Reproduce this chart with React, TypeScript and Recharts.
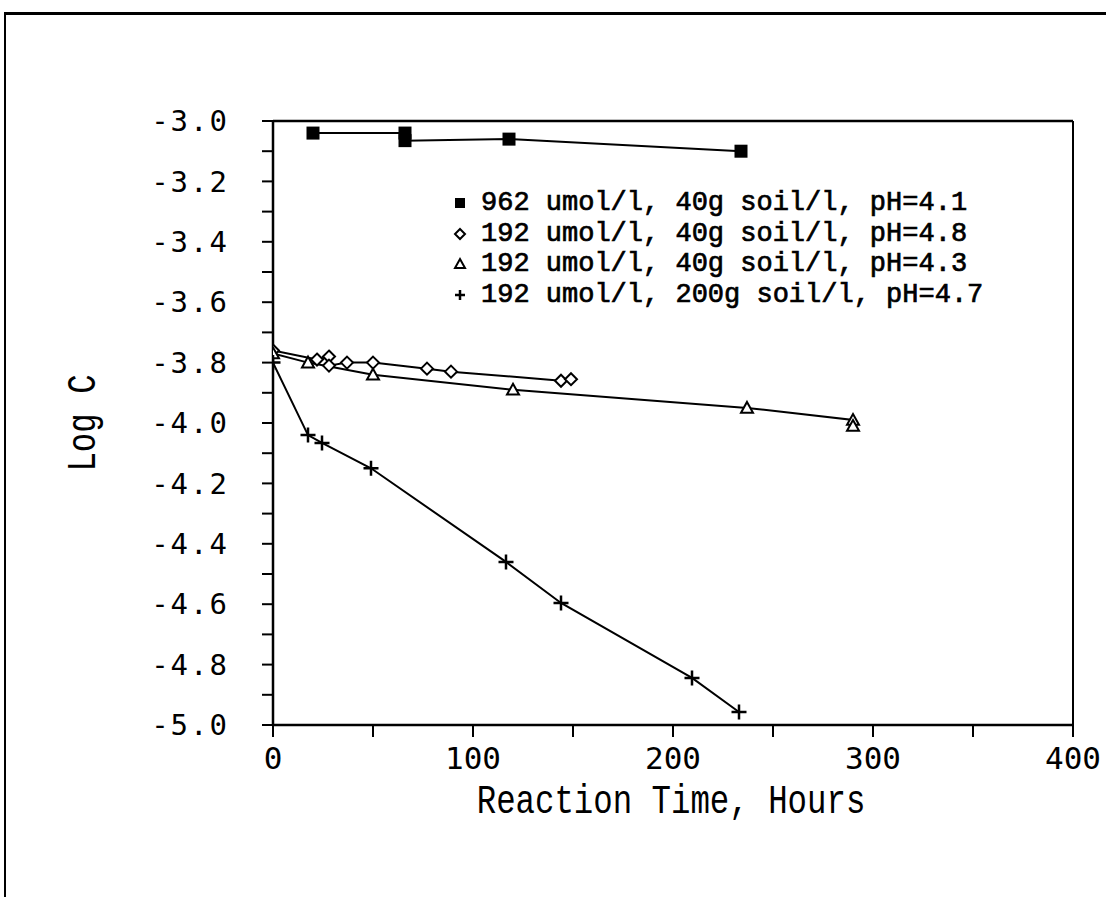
import React from 'react';
import { ComposedChart, Line, XAxis, YAxis, ReferenceLine, Legend } from 'recharts';

// Series: 962 umol/l, 40g soil/l, pH=4.1 (filled squares)
const sqT = [20, 66, 66, 118, 234];
const sqLogC = [-3.04, -3.04, -3.065, -3.06, -3.10];
// Series: 192 umol/l, 40g soil/l, pH=4.8 (open diamonds)
const dmT = [0, 22, 28, 28, 37, 50, 77, 89, 144, 149];
const dmLogC = [-3.76, -3.79, -3.78, -3.81, -3.80, -3.80, -3.82, -3.83, -3.86, -3.855];
// Series: 192 umol/l, 40g soil/l, pH=4.3 (open triangles)
const trT = [0, 17.5, 50, 120, 237, 290, 290];
const trLogC = [-3.77, -3.80, -3.84, -3.89, -3.95, -3.99, -4.01];
// Series: 192 umol/l, 200g soil/l, pH=4.7 (plus)
const plT = [0, 17.5, 24.5, 49, 116.5, 144, 209.5, 233];
const plLogC = [-3.80, -4.04, -4.066, -4.15, -4.46, -4.596, -4.844, -4.957];

const seriesNames = [
  '962 umol/l, 40g soil/l, pH=4.1',
  '192 umol/l, 40g soil/l, pH=4.8',
  '192 umol/l, 40g soil/l, pH=4.3',
  '192 umol/l, 200g soil/l, pH=4.7',
];
const seriesShapes = ['square', 'diamond', 'triangle', 'plus'];

const xTicks = [0, 50, 100, 150, 200, 250, 300, 350, 400];
const yTicks = [-5.0, -4.9, -4.8, -4.7, -4.6, -4.5, -4.4, -4.3, -4.2, -4.1, -4.0,
  -3.9, -3.8, -3.7, -3.6, -3.5, -3.4, -3.3, -3.2, -3.1, -3.0];

const xTitle = 'Reaction Time, Hours';
const yTitle = 'Log C';

const toRows = (t: number[], v: number[]) => t.map((x, i) => ({ t: x, logc: v[i] }));
const sqData = toRows(sqT, sqLogC);
const dmData = toRows(dmT, dmLogC);
const trData = toRows(trT, trLogC);
const plData = toRows(plT, plLogC);

const W = 1106;
const H = 897;
const YW = 200;
const XH = 110;

function marker(shape: string, cx: number, cy: number, s: number, key?: string) {
  if (shape === 'square') {
    return <rect key={key} x={cx - s / 2} y={cy - s / 2} width={s} height={s} fill="#000" />;
  }
  if (shape === 'diamond') {
    const r = s / 2;
    return (
      <polygon key={key} points={`${cx},${cy - r} ${cx + r},${cy} ${cx},${cy + r} ${cx - r},${cy}`}
        fill="#fff" stroke="#000" strokeWidth={2} />
    );
  }
  if (shape === 'triangle') {
    const r = s / 2;
    return (
      <polygon key={key} points={`${cx},${cy - r} ${cx + r},${cy + r * 0.8} ${cx - r},${cy + r * 0.8}`}
        fill="#fff" stroke="#000" strokeWidth={2} />
    );
  }
  const r = s / 2;
  return (
    <path key={key} d={`M${cx - r},${cy} H${cx + r} M${cx},${cy - r} V${cy + r}`} stroke="#000" strokeWidth={2.5} fill="none" />
  );
}

const makeDot = (shape: string, size: number) => (p: any) =>
  marker(shape, p.cx, p.cy, size, `${shape}-${p.index}`);

const LegendContent = () => (
  <div style={{ fontFamily: '"Liberation Mono", monospace', fontWeight: 'normal', fontSize: 27, color: '#000', WebkitTextStroke: '0.7px #000' } as any}>
    {seriesNames.map((n, i) => (
      <div key={n} style={{ display: 'flex', alignItems: 'center', height: 30.5, whiteSpace: 'pre' }}>
        <svg width={24} height={20} style={{ marginRight: 9 }}>
          {marker(seriesShapes[i], 12, 10, 10)}
        </svg>
        <span>{n}</span>
      </div>
    ))}
  </div>
);

const yLabel = (props: any) => {
  const vb = props.viewBox;
  const cx = vb.x + 12;
  const cy = vb.y + vb.height / 2;
  return (
    <text transform={`translate(${cx},${cy}) rotate(-90) scale(0.81,1)`} textAnchor="middle" dominantBaseline="central"
      fontFamily='"Liberation Mono", monospace' fontSize={40} fill="#000">{yTitle}</text>
  );
};

const xLabel = (props: any) => {
  const vb = props.viewBox;
  const cx = vb.x + vb.width / 2 - 2;
  const by = vb.y + 88;
  return (
    <text transform={`translate(${cx},${by}) scale(0.81,1)`} textAnchor="middle"
      fontFamily='"Liberation Mono", monospace' fontSize={40} fill="#000">{xTitle}</text>
  );
};

export default function App() {
  return (
    <div style={{ position: 'absolute', left: 0, top: 0, width: W, height: H, background: '#fff', overflow: 'hidden' }}>
      <div style={{ position: 'absolute', left: 4, top: 12, width: W, height: H, borderTop: '3px solid #000', borderLeft: '2px solid #000' }} />
      <ComposedChart width={W} height={H}
        margin={{ top: 121, right: 33, left: 273 - YW, bottom: H - 725 - XH }}>
        <XAxis dataKey="t" type="number" domain={[0, 400]} ticks={xTicks} allowDataOverflow
          tickFormatter={(v: number) => (v % 100 === 0 ? String(v) : '')}
          height={XH} tickSize={12} tickMargin={10}
          axisLine={{ stroke: '#000', strokeWidth: 2.5 }} tickLine={{ stroke: '#000', strokeWidth: 2 }}
          tick={{ fill: '#000', fontFamily: '"DejaVu Sans Mono", monospace', fontSize: 31 }}
          label={xLabel} />
        <YAxis type="number" domain={[-5, -3]} ticks={yTicks} allowDataOverflow
          tickFormatter={(v: number) => (Math.round(v * 10) % 2 === 0 ? v.toFixed(1) : '')}
          width={YW} tickSize={11} tickMargin={33}
          axisLine={{ stroke: '#000', strokeWidth: 2.5 }} tickLine={{ stroke: '#000', strokeWidth: 2 }}
          tick={{ fill: '#000', fontFamily: '"DejaVu Sans Mono", monospace', fontSize: 29, letterSpacing: 2 }}
          label={yLabel} />
        <ReferenceLine y={-3} stroke="#000" strokeWidth={2.5} />
        <ReferenceLine x={400} stroke="#000" strokeWidth={2} />
        <Legend layout="vertical" align="center" verticalAlign="middle" content={LegendContent}
          wrapperStyle={{ left: 448, top: 188, width: 600 }} />
        <Line data={sqData} dataKey="logc" name={seriesNames[0]} type="linear" stroke="#000" strokeWidth={2}
          dot={makeDot('square', 13)} activeDot={false} isAnimationActive={false} />
        <Line data={dmData} dataKey="logc" name={seriesNames[1]} type="linear" stroke="#000" strokeWidth={2}
          dot={makeDot('diamond', 12)} activeDot={false} isAnimationActive={false} />
        <Line data={trData} dataKey="logc" name={seriesNames[2]} type="linear" stroke="#000" strokeWidth={2}
          dot={makeDot('triangle', 12)} activeDot={false} isAnimationActive={false} />
        <Line data={plData} dataKey="logc" name={seriesNames[3]} type="linear" stroke="#000" strokeWidth={2}
          dot={makeDot('plus', 15)} activeDot={false} isAnimationActive={false} />
      </ComposedChart>
    </div>
  );
}
